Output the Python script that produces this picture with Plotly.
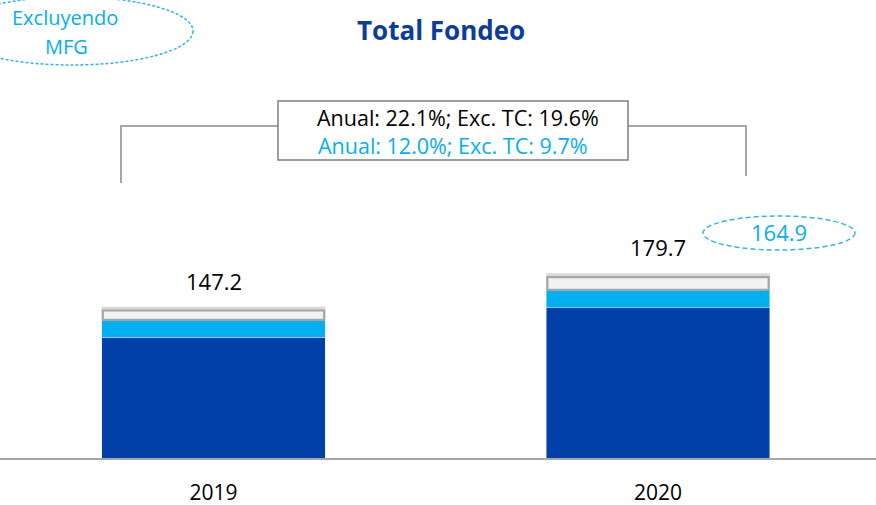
import plotly.graph_objects as go

# Funding totals by year (billions), stacked in three components
years = ["2019", "2020"]
core_funding = [117.6, 146.3]      # dark blue segment
other_funding = [16.2, 16.8]       # light blue segment
mfg_funding = [13.4, 16.6]         # grey segment (MFG)
totals = [round(a + b + c, 1) for a, b, c in zip(core_funding, other_funding, mfg_funding)]
total_excl_mfg_2020 = 164.9

growth_total = "Anual: 22.1%; Exc. TC: 19.6%"
growth_excl_mfg = "Anual: 12.0%; Exc. TC: 9.7%"

# Canvas geometry (pixels)
W, H = 876, 505
PLOT_BOTTOM = 458               # baseline position from the top
PX_PER_UNIT = 1.028
Y_MAX = PLOT_BOTTOM / PX_PER_UNIT

DARK_BLUE = "#0040A8"
LIGHT_BLUE = "#00B0F0"
OUTLINE_BLUE = "#2DB7EA"
FONT = "'Open Sans', Lato, sans-serif"


def px_x(px):
    return px / W


def px_y(py):
    return (PLOT_BOTTOM - py) / PLOT_BOTTOM


def label(text, x, y, size, color, bold=False):
    return dict(text=f"<b>{text}</b>" if bold else text,
                x=px_x(x), y=px_y(y), xref="paper", yref="paper",
                xanchor="center", yanchor="middle", showarrow=False,
                font=dict(family=FONT, size=size, color=color))


fig = go.Figure()
fig.add_trace(go.Bar(x=years, y=core_funding, marker_color=DARK_BLUE, width=0.502,
                     hoverinfo="skip"))
fig.add_trace(go.Bar(x=years, y=other_funding, marker_color=LIGHT_BLUE, width=0.502,
                     hoverinfo="skip"))
fig.add_trace(go.Bar(x=years, y=mfg_funding, marker_color="#D9D9D9", width=0.502,
                     hoverinfo="skip"))

shapes = []
# light grey box with outline inside the MFG segment (shadow strip above it)
shadow_units = 3.8 / PX_PER_UNIT
for i, (c, o, m) in enumerate(zip(core_funding, other_funding, mfg_funding)):
    shapes.append(dict(type="rect", xref="x", yref="y",
                       x0=i - 0.249, x1=i + 0.249,
                       y0=c + o + 0.5, y1=c + o + m - shadow_units,
                       fillcolor="#F2F2F2", line=dict(color="#A6A6A6", width=2.2)))

# growth bracket connecting both bars
shapes.append(dict(type="path", xref="paper", yref="paper",
                   path=f"M {px_x(121)} {px_y(183)} L {px_x(121)} {px_y(126)} L {px_x(278)} {px_y(126)}",
                   line=dict(color="#A6A6A6", width=2)))
shapes.append(dict(type="path", xref="paper", yref="paper",
                   path=f"M {px_x(628)} {px_y(126)} L {px_x(746)} {px_y(126)} L {px_x(746)} {px_y(176)}",
                   line=dict(color="#A6A6A6", width=2)))
shapes.append(dict(type="rect", xref="paper", yref="paper",
                   x0=px_x(278), x1=px_x(628), y0=px_y(160), y1=px_y(101),
                   fillcolor="white", line=dict(color="#7F7F7F", width=1.5)))

# dashed ellipses
shapes.append(dict(type="circle", xref="paper", yref="paper",
                   x0=px_x(703), x1=px_x(855), y0=px_y(250), y1=px_y(216),
                   line=dict(color=OUTLINE_BLUE, width=1.5, dash="5px,3px")))
shapes.append(dict(type="circle", xref="paper", yref="paper",
                   x0=px_x(-49), x1=px_x(193), y0=px_y(65), y1=px_y(-3),
                   line=dict(color=OUTLINE_BLUE, width=1.5, dash="3px,2px")))

annotations = [
    label("Total Fondeo", 441, 30, 26, "#0A3CA0", bold=True),
    label(growth_total, 458, 117, 21.5, "#000000"),
    label(growth_excl_mfg, 452, 145, 21.5, LIGHT_BLUE),
    label(f"{total_excl_mfg_2020:.1f}", 779, 232, 22, LIGHT_BLUE),
    label("Excluyendo", 65, 18, 20, LIGHT_BLUE),
    label("MFG", 66, 47, 20, LIGHT_BLUE),
]
for i, tot in enumerate(totals):
    annotations.append(dict(text=f"{tot:.1f}", x=i, y=tot, xref="x", yref="y",
                            xanchor="center", yanchor="middle", yshift=26,
                            showarrow=False,
                            font=dict(family=FONT, size=22, color="#000000")))

left = -213.5 / 444.5
right = (W - 213.5) / 444.5
fig.update_layout(
    width=W, height=H,
    margin=dict(l=0, r=0, t=0, b=H - PLOT_BOTTOM, pad=0, autoexpand=False),
    barmode="stack", showlegend=False,
    paper_bgcolor="white", plot_bgcolor="white",
    shapes=shapes, annotations=annotations,
    xaxis=dict(type="category", range=[left, right], showline=True,
               linecolor="#A6A6A6", linewidth=2, automargin=False,
               showgrid=False, zeroline=False, ticks="", ticklabelstandoff=15,
               tickfont=dict(family=FONT, size=21, color="#000000"), fixedrange=True),
    yaxis=dict(range=[0, Y_MAX], visible=False, fixedrange=True, automargin=False),
)

fig.write_html("out.html", config={"displayModeBar": False})
